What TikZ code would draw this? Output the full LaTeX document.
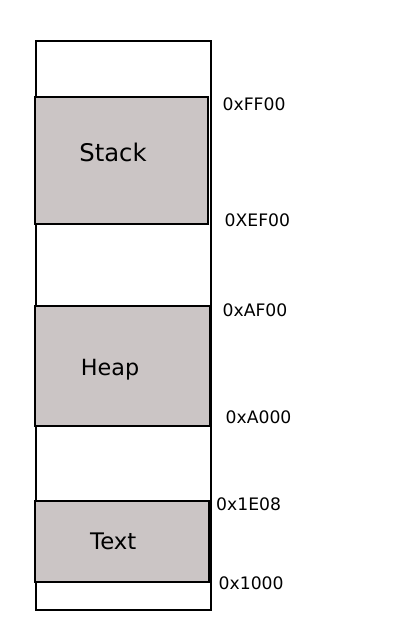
\documentclass[tikz,border=0pt]{standalone}
\usepackage{fontspec}
\setmainfont{DejaVu Sans}
\definecolor{segfill}{RGB}{203,197,197}
\begin{document}
\begin{tikzpicture}[x=1pt,y=-1pt,
  seg/.style={draw=black, line width=2pt, fill=segfill, rectangle, inner sep=0pt, outer sep=0pt, anchor=north west},
  segname/.style={anchor=base, inner sep=0pt, font=\fontsize{23}{27}\selectfont},
  addr/.style={anchor=base west, inner sep=0pt, font=\fontsize{17.2}{20}\selectfont}]
\useasboundingbox (0,0) rectangle (400,640);
\node[draw=black, line width=1.6pt, rectangle, inner sep=0pt, anchor=north west, minimum width=175pt, minimum height=569pt] (mem) at (35,40) {};
\node[seg, minimum width=173pt, minimum height=127pt] (stack) at (35,97) {};
\node[seg, minimum width=175pt, minimum height=120pt] (heap) at (35,306) {};
\node[seg, minimum width=174pt, minimum height=81pt] (text) at (35,501) {};
\node[segname, font=\fontsize{24.3}{28}\selectfont] (stacklbl) at (113,161) {Stack};
\node[segname, font=\fontsize{22.3}{26}\selectfont] (heaplbl) at (110,375) {Heap};
\node[segname, font=\fontsize{22.8}{26}\selectfont] (textlbl) at (113.3,549) {Text};
\node[addr] (a1) at (222.5,110) {0xFF00};
\node[addr] (a2) at (224.5,226.7) {0XEF00};
\node[addr] (a3) at (222.5,316.7) {0xAF00};
\node[addr] (a4) at (225.5,423.3) {0xA000};
\node[addr] (a5) at (216,510.7) {0x1E08};
\node[addr] (a6) at (218.5,589.3) {0x1000};
\end{tikzpicture}
\end{document}
